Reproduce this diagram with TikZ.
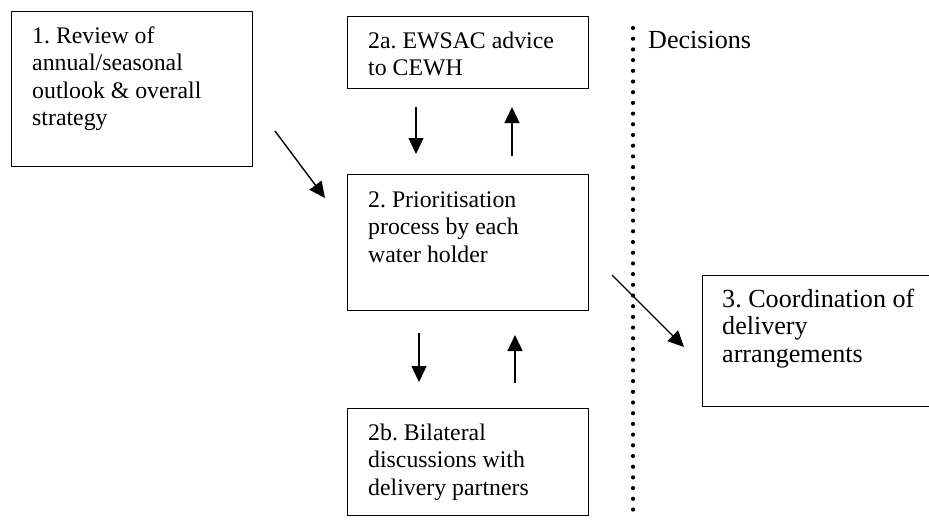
\documentclass[tikz,border=0pt]{standalone}
\usepackage{fontspec}
\setmainfont{Liberation Serif}
\frenchspacing
\usetikzlibrary{arrows.meta}
\begin{document}
\begin{tikzpicture}[x=1pt,y=-1pt,
  box/.style={draw, line width=1.3pt, anchor=north west, inner sep=0pt},
  txt/.style={anchor=base west, inner sep=0pt, font=\frenchspacing\fontsize{23.8}{27.6}\selectfont},
  txtbig/.style={anchor=base west, inner sep=0pt, font=\frenchspacing\fontsize{26.1}{27.6}\selectfont},
  arr/.style={line width=1.4pt, -{Triangle[length=16pt,width=15pt]}},
  dotline/.style={line width=4.2pt, line cap=round, dash pattern=on 0pt off 10.7pt}]
\useasboundingbox (0,0) rectangle (929,523);
% boxes
\node[box, minimum width=241pt, minimum height=155pt] (b1) at (11,11) {};
\node[box, minimum width=241pt, minimum height=72pt] (b2a) at (347,16) {};
\node[box, minimum width=241pt, minimum height=136pt] (b2) at (347,174) {};
\node[box, minimum width=241pt, minimum height=107pt] (b2b) at (347,408) {};
\node[box, minimum width=260pt, minimum height=131pt] (b3) at (702,275) {};
% texts
\node[txt] (t1) at (32,43) {\begin{tabular}[t]{@{}l@{}}1. Review of\\annual/seasonal\\outlook \& overall\\strategy\end{tabular}};
\node[txt] (t2a) at (368,48) {\begin{tabular}[t]{@{}l@{}}2a. EWSAC advice\\to CEWH\end{tabular}};
\node[txt] (t2) at (368,207) {\begin{tabular}[t]{@{}l@{}}2. Prioritisation\\process by each\\water holder\end{tabular}};
\node[txt] (t2b) at (368,440) {\begin{tabular}[t]{@{}l@{}}2b. Bilateral\\discussions with\\delivery partners\end{tabular}};
\node[txtbig] (t3) at (722,307) {\begin{tabular}[t]{@{}l@{}}3. Coordination of\\delivery\\arrangements\end{tabular}};
\node[txtbig] (dec) at (648,48) {Decisions};
% dotted divider
\coordinate (dtop) at (633,28);
\coordinate (dbot) at (633,520);
\draw[dotline] (dtop) -- (dbot);
% arrow end points
\coordinate (a1s) at (275,131);
\coordinate (a1e) at (325,198);
\coordinate (d1s) at (416,107);
\coordinate (d1e) at (416,154);
\coordinate (u1s) at (512,156);
\coordinate (u1e) at (512,107);
\coordinate (d2s) at (419,333);
\coordinate (d2e) at (419,382);
\coordinate (u2s) at (515,383);
\coordinate (u2e) at (515,335);
\coordinate (a3s) at (612,275);
\coordinate (a3e) at (684,347);
\draw[arr] (a1s) -- (a1e);
\draw[arr] (d1s) -- (d1e);
\draw[arr] (u1s) -- (u1e);
\draw[arr] (d2s) -- (d2e);
\draw[arr] (u2s) -- (u2e);
\draw[arr] (a3s) -- (a3e);
\end{tikzpicture}
\end{document}
